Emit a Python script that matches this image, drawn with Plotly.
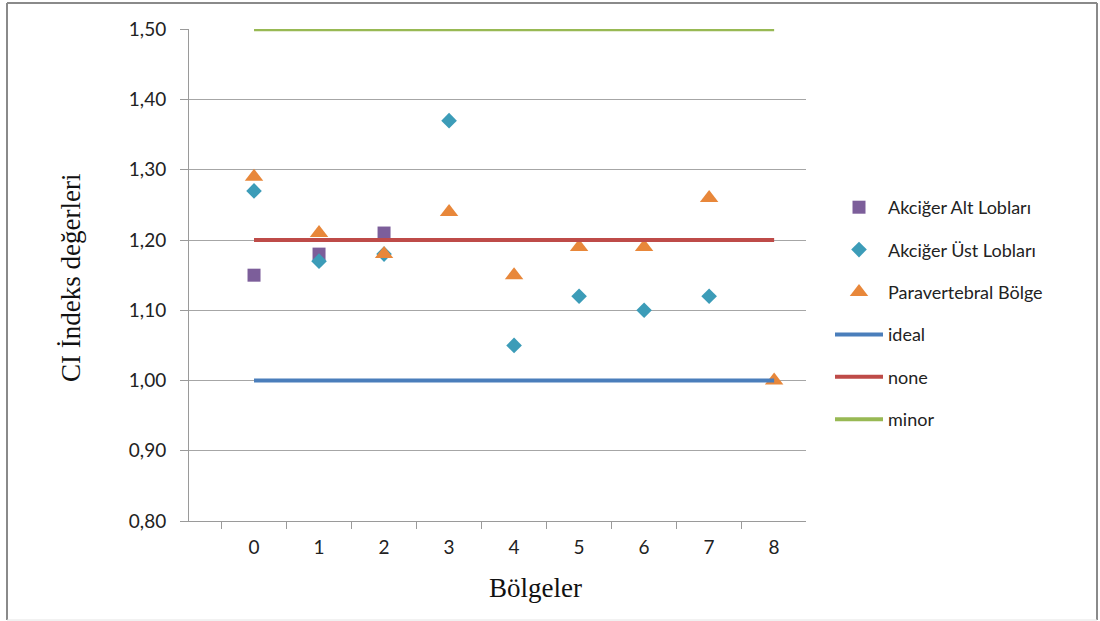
import plotly.graph_objects as go

# Region indices on the x axis
alt_x = [0, 1, 2]
alt_y = [1.15, 1.18, 1.21]

ust_x = [0, 1, 2, 3, 4, 5, 6, 7]
ust_y = [1.27, 1.17, 1.18, 1.37, 1.05, 1.12, 1.10, 1.12]

para_x = [0, 1, 2, 3, 4, 5, 6, 7, 8]
para_y = [1.29, 1.21, 1.18, 1.24, 1.15, 1.19, 1.19, 1.26, 1.00]

# Reference levels spanning all regions
ref_x = [0, 8]
ideal_y = [1.00, 1.00]
none_y = [1.20, 1.20]
minor_y = [1.50, 1.50]

x_labels = ["0", "1", "2", "3", "4", "5", "6", "7", "8"]
y_ticks = [0.8, 0.9, 1.0, 1.1, 1.2, 1.3, 1.4, 1.5]

LABEL_FONT = "Lato, 'Liberation Sans', sans-serif"
SERIF = "'Liberation Serif', 'Times New Roman', serif"

fig = go.Figure()

fig.add_trace(go.Scatter(
    x=alt_x, y=alt_y, mode="markers", name="Akciğer Alt Lobları",
    marker=dict(symbol="square", size=13, color="#7C5E9A"),
    legendgroup="a",
))
fig.add_trace(go.Scatter(
    x=ust_x, y=ust_y, mode="markers", name="Akciğer Üst Lobları",
    marker=dict(symbol="diamond", size=12, color="#3C9CB8"),
    legendgroup="b",
))
fig.add_trace(go.Scatter(
    x=para_x, y=para_y, mode="markers", name="Paravertebral Bölge",
    marker=dict(symbol="triangle-up", size=16, color="#E8873A"),
    legendgroup="c",
))
fig.add_trace(go.Scatter(
    x=ref_x, y=ideal_y, mode="lines", name="ideal",
    line=dict(color="#4A7EBB", width=4), legendgroup="d",
))
fig.add_trace(go.Scatter(
    x=ref_x, y=none_y, mode="lines", name="none",
    line=dict(color="#BE4B48", width=4), legendgroup="e",
))
fig.add_trace(go.Scatter(
    x=ref_x, y=minor_y, mode="lines", name="minor",
    line=dict(color="#98B954", width=4), legendgroup="f",
))

L, R, T, B = 189, 294, 29, 100
W, H = 1100, 621
pw, ph = W - L - R, H - T - B


def px_x(p):
    return (p - L) / pw


def px_y(p):
    return (H - B - p) / ph


border = "#8a8a8a"
shapes = [
    dict(type="line", xref="paper", yref="paper", x0=px_x(7), x1=px_x(1097),
         y0=px_y(3), y1=px_y(3), line=dict(color=border, width=2)),
    dict(type="line", xref="paper", yref="paper", x0=px_x(7), x1=px_x(7),
         y0=px_y(3), y1=px_y(620), line=dict(color=border, width=2)),
    dict(type="line", xref="paper", yref="paper", x0=px_x(1097), x1=px_x(1097),
         y0=px_y(3), y1=px_y(620), line=dict(color=border, width=2)),
    dict(type="line", xref="paper", yref="paper", x0=px_x(7), x1=px_x(1097),
         y0=px_y(620), y1=px_y(620), line=dict(color="#e4e4e4", width=1)),
]

annotations = [
    dict(text="Bölgeler", xref="paper", yref="paper",
         x=px_x(535), y=px_y(588), xanchor="center", yanchor="middle",
         showarrow=False, font=dict(family=SERIF, size=27, color="#111")),
    dict(text="CI İndeks değerleri", xref="paper", yref="paper",
         x=px_x(71), y=px_y(278), xanchor="center", yanchor="middle",
         textangle=-90, showarrow=False,
         font=dict(family=SERIF, size=27, color="#111")),
]

fig.update_layout(
    width=W, height=H,
    margin=dict(l=L, r=R, t=T, b=B),
    paper_bgcolor="white", plot_bgcolor="white",
    separators=", ",
    showlegend=True,
    legend=dict(
        x=px_x(830), xanchor="left", y=px_y(189), yanchor="top",
        font=dict(family=LABEL_FONT, size=18, color="#222"),
        tracegroupgap=16, itemwidth=48, bgcolor="rgba(0,0,0,0)",
    ),
    shapes=shapes,
    annotations=annotations,
    xaxis=dict(
        range=[-1.0, 8.49],
        tickmode="array", tickvals=list(range(len(x_labels))), ticktext=x_labels,
        ticks="outside", ticklen=9, tickcolor="rgba(0,0,0,0)",
        minor=dict(tick0=-0.5, dtick=1, ticks="outside", ticklen=7,
                   tickcolor="#9a9a9a", showgrid=False),
        showgrid=False, zeroline=False,
        showline=True, linecolor="#9a9a9a", linewidth=1,
        tickfont=dict(family=LABEL_FONT, size=19, color="#222"),
    ),
    yaxis=dict(
        range=[0.8, 1.5005],
        tickmode="array", tickvals=y_ticks, tickformat=".2f",
        ticks="outside", ticklen=8, tickcolor="#9a9a9a",
        ticklabelstandoff=10,
        showgrid=True, gridcolor="#a6a6a6", gridwidth=1, zeroline=False,
        showline=True, linecolor="#9a9a9a", linewidth=1,
        tickfont=dict(family=LABEL_FONT, size=19, color="#222"),
    ),
)

fig.write_html("out.html")
